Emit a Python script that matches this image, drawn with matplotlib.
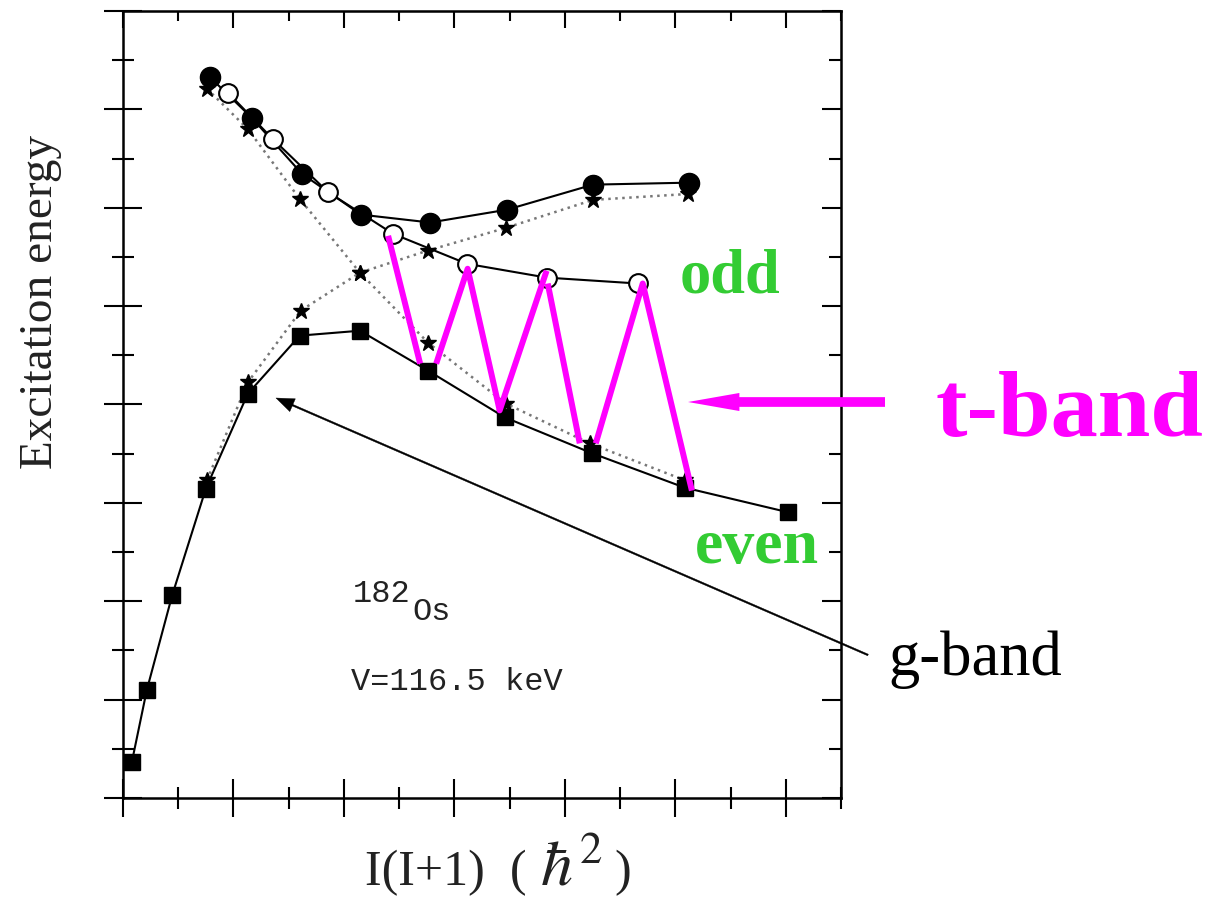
"""
plot.py
Excitation energy vs I(I+1) for 182Os, with the t-band zigzag marked.
"""

import matplotlib
matplotlib.use("Agg")
import matplotlib.pyplot as plt

plt.rcParams["mathtext.fontset"] = "stix"

# even-spin (g-band) levels, squares
even_x = [0.16, 0.43, 0.89, 1.50, 2.26, 3.20, 4.29, 5.52, 6.91, 8.49, 10.17, 12.04]
even_y = [0.73, 2.19, 4.12, 6.29, 8.22, 9.40, 9.50, 8.69, 7.74, 7.01, 6.31, 5.81]

# odd-spin levels, filled circles
odd_x = [1.57, 2.33, 3.24, 4.31, 5.56, 6.95, 8.51, 10.24]
odd_y = [14.66, 13.83, 12.69, 11.86, 11.70, 11.96, 12.47, 12.51]

# second odd-spin sequence, open circles
open_x = [1.90, 2.71, 3.71, 4.89, 6.23, 7.67, 9.32]
open_y = [14.34, 13.40, 12.32, 11.47, 10.86, 10.58, 10.46]

# unperturbed bands (stars, dotted), one falling and one rising
star_dn_x = [1.52, 2.26, 3.20, 4.29, 5.52, 6.93, 8.45, 10.17]
star_dn_y = [14.42, 13.60, 12.18, 10.68, 9.26, 8.02, 7.21, 6.46]
star_up_x = [1.52, 2.26, 3.22, 4.29, 5.52, 6.93, 8.51, 10.23]
star_up_y = [6.46, 8.45, 9.91, 10.68, 11.13, 11.59, 12.16, 12.28]

# t-band zigzag drawn by hand over the levels
zig_segments = [
    ([4.80, 5.38], [11.43, 8.83]),
    ([5.67, 6.24, 6.82, 7.67], [8.83, 10.76, 7.88, 10.72]),
    ([7.69, 8.27], [10.46, 7.21]),
    ([8.56, 9.41, 10.30], [7.21, 10.46, 6.25]),
]

W, H = 1215, 897
MAGENTA = "#FF00FF"
GREEN = "#33CC33"
SERIF = "Liberation Serif"
INK = "#222222"

fig = plt.figure(figsize=(W / 100, H / 100), dpi=100)
ax = fig.add_axes([123 / W, 1 - 798 / H, (841 - 123) / W, (798 - 11) / H])
ax.set_xlim(0, 13)
ax.set_ylim(0, 16)

ax.plot(star_dn_x, star_dn_y, color="#777777", lw=1.8, ls=(0, (1, 1.8)),
        marker="*", ms=12, mfc="black", mec="black", zorder=2)
ax.plot(star_up_x, star_up_y, color="#777777", lw=1.8, ls=(0, (1, 1.8)),
        marker="*", ms=12, mfc="black", mec="black", zorder=2)
ax.plot(even_x, even_y, color="black", lw=1.5, marker="s", ms=12, zorder=3)
ax.plot(odd_x, odd_y, color="black", lw=1.5, marker="o", ms=14.5, zorder=3)
ax.plot(open_x, open_y, color="black", lw=1.5, marker="o", ms=13.5,
        mfc="white", mec="black", mew=1.5, zorder=4)

for xs, ys in zig_segments:
    ax.plot(xs, ys, color=MAGENTA, lw=4.3, solid_capstyle="butt", zorder=5)

# ticks: in-out on bottom/left, inward on top/right
major_x = list(range(0, 14, 2))
minor_x = list(range(1, 14, 2))
major_y = list(range(0, 17, 2))
minor_y = list(range(1, 17, 2))
ax.set_xticks(major_x)
ax.set_xticks(minor_x, minor=True)
ax.set_yticks(major_y)
ax.set_yticks(minor_y, minor=True)
ax.tick_params(which="both", direction="inout", width=1.5,
               labelbottom=False, labelleft=False)
ax.tick_params(which="major", length=27)
ax.tick_params(which="minor", length=16)
for s in ax.spines.values():
    s.set_linewidth(1.8)

top = ax.secondary_xaxis("top")
top.set_xticks(major_x)
top.set_xticks(minor_x, minor=True)
top.tick_params(which="both", direction="in", width=1.5, labeltop=False)
top.tick_params(which="major", length=12)
top.tick_params(which="minor", length=7)
right = ax.secondary_yaxis("right")
right.set_yticks(major_y)
right.set_yticks(minor_y, minor=True)
right.tick_params(which="both", direction="in", width=1.5, labelright=False)
right.tick_params(which="major", length=14)
right.tick_params(which="minor", length=8.5)

# axis labels
fig.text(41 / W, 1 - 302 / H, "Excitation energy", rotation=90,
         ha="center", va="center", fontsize=34, family=SERIF, color=INK)
fig.text(365 / W, 1 - 885 / H, "I(I+1)  (", ha="left", va="baseline",
         fontsize=36, family=SERIF, color=INK)
fig.text(540 / W, 1 - 885 / H, r"$\hbar^2$", ha="left", va="baseline",
         fontsize=46, color=INK)
fig.text(614 / W, 1 - 885 / H, ")", ha="left", va="baseline",
         fontsize=36, family=SERIF, color=INK)

# nucleus and parameter
fig.text(353 / W, 1 - 602 / H, "182", fontsize=23, family="Liberation Mono",
         va="baseline", color=INK)
fig.text(412 / W, 1 - 620 / H, "Os", fontsize=23, family="Liberation Mono",
         va="baseline", color=INK)
fig.text(351 / W, 1 - 690 / H, "V=116.5 keV", fontsize=23,
         family="Liberation Mono", va="baseline", color=INK)

# band labels
fig.text(680 / W, 1 - 292 / H, "odd", fontsize=45, weight="bold",
         family=SERIF, color=GREEN, va="baseline")
fig.text(695 / W, 1 - 563 / H, "even", fontsize=46, weight="bold",
         family=SERIF, color=GREEN, va="baseline")
fig.text(935 / W, 1 - 436 / H, "t-band", fontsize=68, weight="bold",
         family=SERIF, color=MAGENTA, va="baseline")
fig.text(888 / W, 1 - 675 / H, "g-band", fontsize=45, family=SERIF,
         color="black", va="baseline")

# arrows
ax.annotate("", xy=(688, H - 402), xycoords="figure pixels",
            xytext=(885, H - 402), textcoords="figure pixels",
            arrowprops=dict(width=7, headwidth=13, headlength=37, lw=0,
                            color=MAGENTA, shrink=0), annotation_clip=False)
ax.annotate("", xy=(276, H - 398), xycoords="figure pixels",
            xytext=(868, H - 655), textcoords="figure pixels",
            arrowprops=dict(width=1.2, headwidth=10, headlength=13, lw=0.3,
                            color="black", shrink=0), annotation_clip=False)

fig.savefig("out.png", dpi=100)
